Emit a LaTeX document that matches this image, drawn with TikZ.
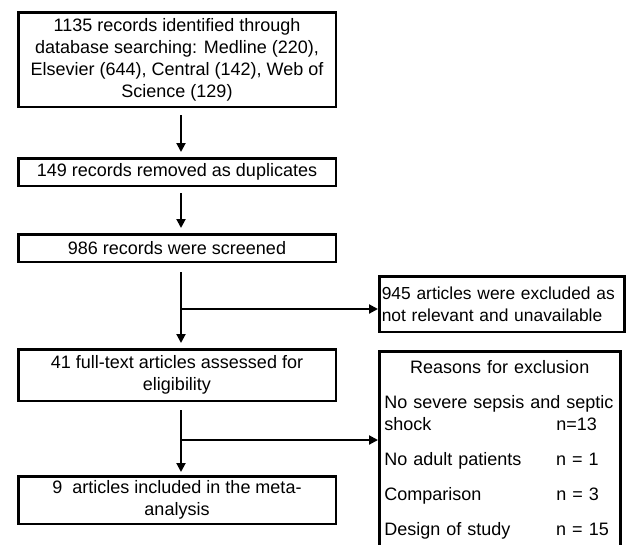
\documentclass[tikz,border=0pt]{standalone}
\usepackage{fontspec}
\setmainfont{Liberation Sans}
\usetikzlibrary{positioning,arrows.meta}
\begin{document}
\begin{tikzpicture}[
    x=1pt, y=-1pt,
    every node/.style={font=\fontsize{18}{22}\selectfont},
    stage/.style={draw, rectangle, line width=2.5pt, minimum width=317.5pt,
      inner sep=3pt, align=center},
    sidebox/.style={draw, rectangle, line width=2.5pt, inner sep=3pt,
      anchor=north west, align=left},
    arrow/.style={line width=2pt,-{Triangle[length=9pt,width=9pt]}}
]
\useasboundingbox (0,0) rectangle (631,544);
\node (ident) [stage, minimum height=94.5pt] at (177,59.5)
  {1135 records identified through\\ database searching: Medline (220),\\
   Elsevier (644), Central (142), Web of\\ Science (129)};
\node (dupl)   [stage, minimum height=27.5pt, below=49pt of ident]
  {149 records removed as duplicates};
\node (screen) [stage, minimum height=27.5pt, below=46pt of dupl]
  {986 records were screened};
\node (full)   [stage, minimum height=51.5pt, below=85pt of screen]
  {41 full-text articles assessed for\\ eligibility};
\node (incl)   [stage, minimum height=47.5pt, below=73pt of full]
  {9\ \ articles included in the meta-\\ analysis};

\node (excl) [sidebox, text width=240pt, inner xsep=2.5pt, minimum height=55.5pt,
  font=\fontsize{17.4}{22}\selectfont]
  at (378,275) {\mbox{945 articles were excluded as}\\ \mbox{not relevant and unavailable}};
\node (why)  [sidebox, text width=231pt, inner xsep=5pt, inner ysep=9pt]
  at (378,350)
  {\makebox[231pt]{Reasons for exclusion}\\[13pt]
   No severe sepsis and septic\\
   \makebox[172pt][l]{shock}n=13\\[13pt]
   \makebox[172pt][l]{No adult patients}n = 1\\[13pt]
   \makebox[172pt][l]{Comparison}n = 3\\[13pt]
   \makebox[172pt][l]{Design of study}n = 15};

\coordinate (split1) at (181,309);
\coordinate (split2) at (181,440);

\draw [arrow] ([xshift=4pt,yshift=-7pt]ident.south) -- ([xshift=4pt,yshift=5pt]dupl.north);
\draw [arrow] ([xshift=4pt,yshift=-6pt]dupl.south)  -- ([xshift=4pt,yshift=5pt]screen.north);
\draw [arrow] ([xshift=4pt,yshift=-9pt]screen.south) -- ([xshift=4pt,yshift=5pt]full.north);
\draw [arrow] (split1) -- (split1 -| excl.west);
\draw [arrow] ([xshift=4pt,yshift=-8pt]full.south) -- ([xshift=4pt,yshift=3pt]incl.north);
\draw [arrow] (split2) -- (split2 -| why.west);
\end{tikzpicture}
\end{document}
